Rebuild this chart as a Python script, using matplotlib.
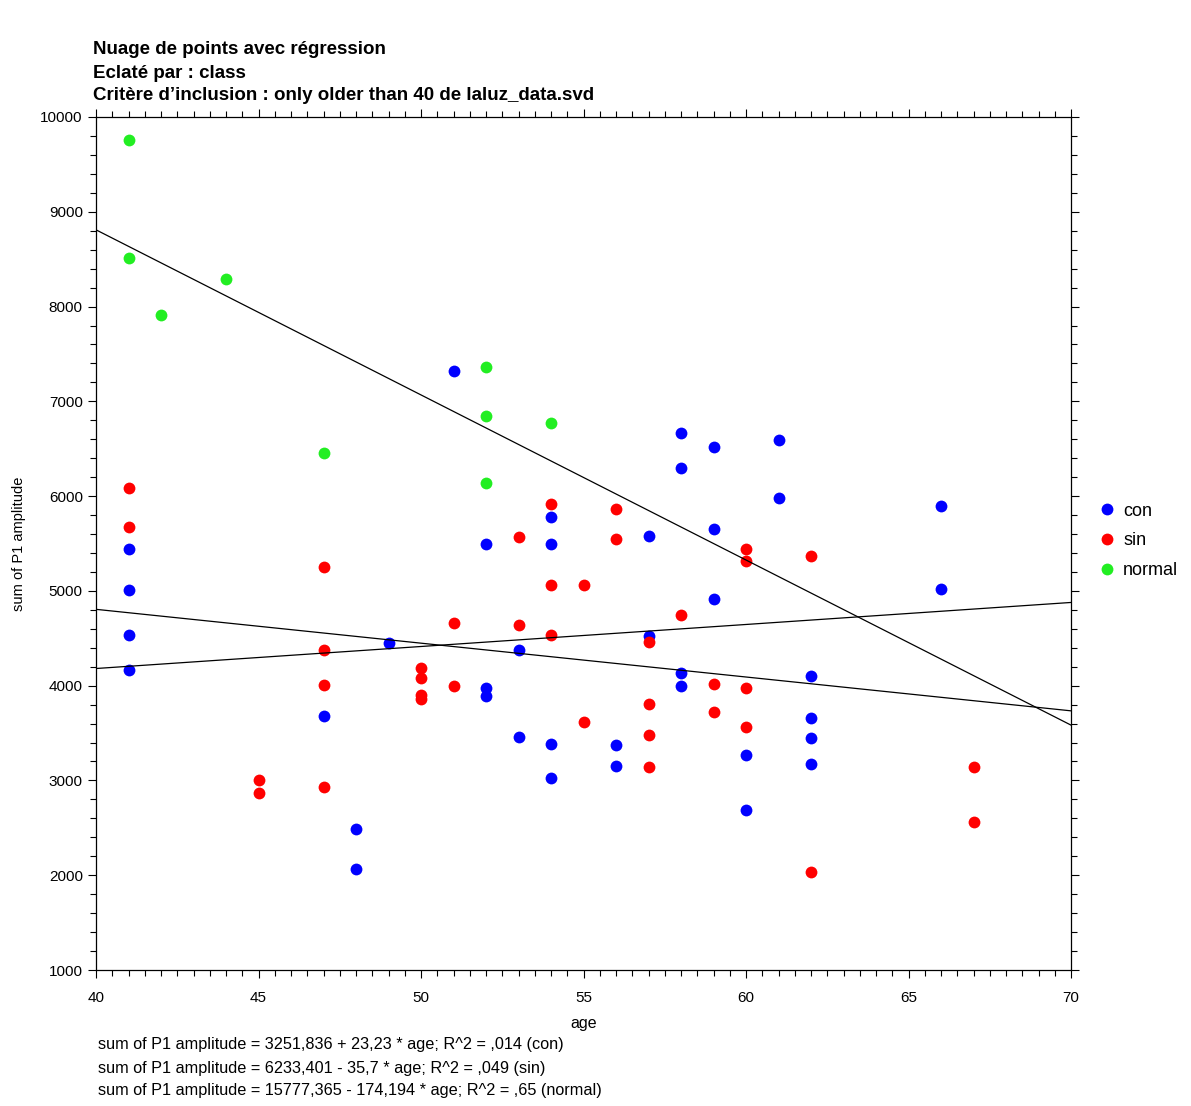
import matplotlib
matplotlib.use("Agg")
import matplotlib.pyplot as plt
from matplotlib.ticker import MultipleLocator
from matplotlib.lines import Line2D
import numpy as np

plt.rcParams["font.family"] = ["Liberation Sans", "DejaVu Sans"]

# Data
con_age = [41, 41, 41, 41, 47, 48, 48, 49, 51, 52, 52, 52, 53, 53, 54, 54, 54, 54,
           56, 56, 57, 57, 58, 58, 58, 58, 59, 59, 59, 60, 60, 61, 61, 62, 62, 62, 62,
           66, 66]
con_amp = [5440, 5010, 4535, 4165, 3680, 2490, 2065, 4450, 7320, 5495, 3975, 3890,
           4375, 3460, 5780, 5495, 3385, 3025, 3375, 3150, 5580, 4525, 6665, 6295,
           4135, 3995, 6520, 5650, 4915, 3270, 2690, 6590, 5980, 4100, 3660, 3450,
           3175, 5895, 5020]

sin_age = [41, 41, 45, 45, 47, 47, 47, 47, 50, 50, 50, 50, 51, 51, 53, 53, 54, 54, 54,
           55, 55, 56, 56, 57, 57, 57, 57, 58, 59, 59, 60, 60, 60, 60, 62, 62, 67, 67]
sin_amp = [6085, 5675, 3005, 2865, 5250, 4375, 4005, 2930, 4185, 4080, 3900, 3860,
           4660, 3995, 5565, 4640, 5915, 5060, 4535, 5060, 3615, 5865, 5545, 4460,
           3805, 3480, 3145, 4745, 4020, 3720, 5440, 5315, 3975, 3565, 5370, 2035,
           3145, 2560]

normal_age = [41, 41, 42, 44, 47, 52, 52, 52, 54]
normal_amp = [9755, 8510, 7910, 8290, 6455, 7360, 6845, 6140, 6770]

# Regression coefficients printed under the chart
groups = ["con", "sin", "normal"]
intercepts = [3251.836, 6233.401, 15777.365]
slopes = [23.23, -35.7, -174.194]
colors = ["#0000ff", "#ff0000", "#22ee22"]

fig = plt.figure(figsize=(11.91, 11.06), dpi=100)
ax = fig.add_axes([96 / 1191, 1 - 970 / 1106, 975 / 1191, 853 / 1106])

# Scatter points
for ages, amps, col in zip([con_age, sin_age, normal_age],
                           [con_amp, sin_amp, normal_amp], colors):
    ax.plot(ages, amps, "o", color=col, markersize=8.5, markeredgewidth=0)

# Regression lines
xs = np.array([40, 70])
for b, m in zip(intercepts, slopes):
    ax.plot(xs, b + m * xs, color="black", linewidth=0.9)

ax.set_xlim(40, 70)
ax.set_ylim(1000, 10000)
ax.xaxis.set_major_locator(MultipleLocator(5))
ax.xaxis.set_minor_locator(MultipleLocator(0.5))
ax.yaxis.set_major_locator(MultipleLocator(1000))
ax.yaxis.set_minor_locator(MultipleLocator(200))
ax.tick_params(which="both", direction="out", top=True, right=True,
               labelsize=11, width=0.8)
ax.tick_params(which="major", length=6)
ax.tick_params(which="minor", length=4)
ax.tick_params(axis="x", pad=9)
for s in ax.spines.values():
    s.set_linewidth(0.9)

ax.set_xlabel("age", fontsize=11.5, labelpad=8)
ax.set_ylabel("sum of P1 amplitude", fontsize=10.5, labelpad=10)

# Legend on the right, no frame
handles = [Line2D([], [], marker="o", linestyle="", color=c, markersize=8.5,
                  markeredgewidth=0) for c in colors]
ax.legend(handles, groups, loc="center left", bbox_to_anchor=(1.01, 0.503),
          frameon=False, fontsize=13, handletextpad=0.35, labelspacing=0.7,
          handlelength=1.1)

# Title block
titles = ["Nuage de points avec régression",
          "Eclaté par : class",
          "Critère d’inclusion : only older than 40 de laluz_data.svd"]
for i, t in enumerate(titles):
    fig.text(93 / 1191, 1 - (50 + 23 * i) / 1106, t, fontsize=13.5,
             fontweight="bold", va="center", ha="left")

# Regression equations under the chart
eqs = ["sum of P1 amplitude = 3251,836 + 23,23 * age; R^2 = ,014 (con)",
       "sum of P1 amplitude = 6233,401 - 35,7 * age; R^2 = ,049 (sin)",
       "sum of P1 amplitude = 15777,365 - 174,194 * age; R^2 = ,65 (normal)"]
for i, t in enumerate(eqs):
    fig.text(98 / 1191, 1 - (1045 + 23 * i) / 1106, t, fontsize=11.7,
             va="center", ha="left")

fig.savefig("out.png", dpi=100)
